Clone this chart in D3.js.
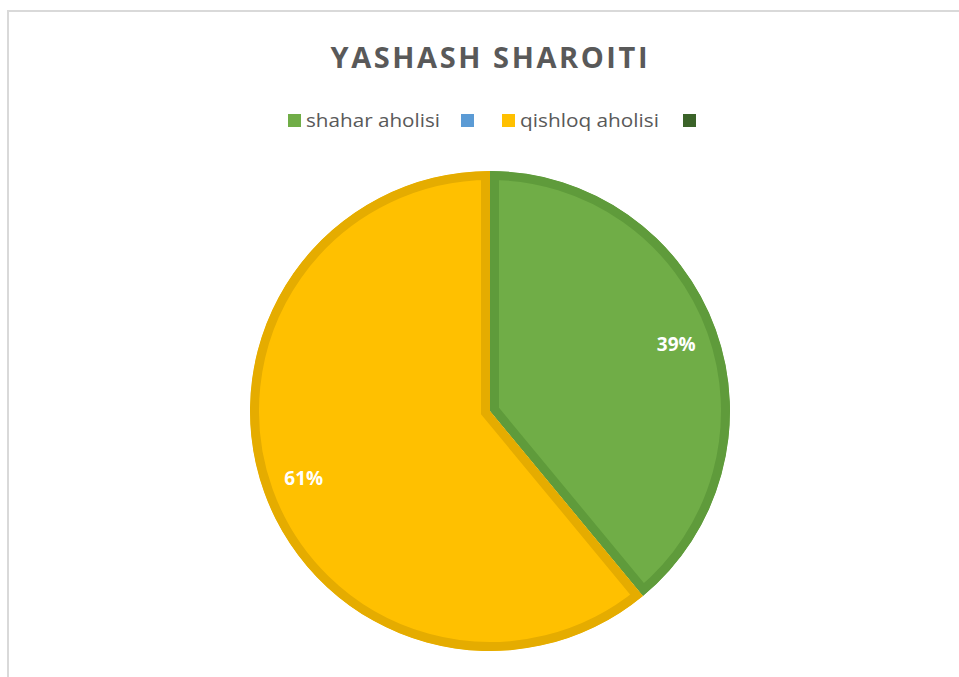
<!DOCTYPE html>
<html>
<head>
<meta charset="utf-8">
<script src="https://cdn.jsdelivr.net/npm/d3@7"></script>
<style>
  html, body { margin: 0; padding: 0; background: #fff; }
  svg { display: block; }
</style>
</head>
<body>
<svg id="chart" width="959" height="677"></svg>
<script>
// ---- data ----
const title = "YASHASH SHAROITI";
const categories = ["shahar aholisi", "", "qishloq aholisi", ""];
const values = [39, 0, 61, 0];
const fillColors = ["#70ad47", "#5b9bd5", "#ffc000", "#3b6329"];
const edgeColors = ["#5f9b3b", "#4a86c0", "#e5ac00", "#2f521f"];

const svg = d3.select("#chart");
const W = 959, H = 677;

// chart area border (only top/left visible)
svg.append("rect")
  .attr("x", 8).attr("y", 11)
  .attr("width", W + 20).attr("height", H + 20)
  .attr("fill", "#fff")
  .attr("stroke", "#d9d9d9")
  .attr("stroke-width", 2);

// title
svg.append("text")
  .attr("x", 489).attr("y", 68)
  .attr("text-anchor", "middle")
  .attr("font-family", "'Open Sans', sans-serif")
  .attr("font-weight", "bold")
  .attr("font-size", 29)
  .attr("fill", "#595959")
  .attr("textLength", 317)
  .attr("lengthAdjust", "spacing")
  .text(title);

// legend
const legendItems = [
  { x: 288, tw: 134 },
  { x: 461, tw: 0 },
  { x: 502, tw: 139 },
  { x: 683, tw: 0 }
];
const legend = svg.append("g");
categories.forEach((c, i) => {
  const g = legend.append("g").attr("transform", `translate(${legendItems[i].x},114)`);
  g.append("rect").attr("width", 13).attr("height", 13).attr("fill", fillColors[i]);
  if (c) {
    g.append("text")
      .attr("x", 18).attr("y", 13)
      .attr("font-family", "'Open Sans', sans-serif")
      .attr("font-size", 19)
      .attr("fill", "#595959")
      .attr("textLength", legendItems[i].tw)
      .attr("lengthAdjust", "spacingAndGlyphs")
      .text(c);
  }
});

// pie
const cx = 490, cy = 411, R = 240;
const pie = d3.pie().sort(null).value(d => d.v);
const data = pie(values.map((v, i) => ({ v, i })));
const arc = d3.arc().innerRadius(0).outerRadius(R);
const labelArc = d3.arc().innerRadius(198).outerRadius(198);

const defs = svg.append("defs");
const pg = svg.append("g").attr("transform", `translate(${cx},${cy})`);

data.forEach((d, k) => {
  if (d.value <= 0) return;
  const id = "clip" + k;
  defs.append("clipPath").attr("id", id)
    .append("path").attr("d", arc(d));
  pg.append("path")
    .attr("d", arc(d))
    .attr("fill", fillColors[d.data.i])
    .attr("stroke", edgeColors[d.data.i])
    .attr("stroke-width", 18)
    .attr("stroke-linejoin", "miter")
    .attr("clip-path", `url(#${id})`);
});

// labels
const total = d3.sum(values);
data.forEach(d => {
  if (d.value <= 0) return;
  const [x, y] = labelArc.centroid(d);
  pg.append("text")
    .attr("x", x).attr("y", y)
    .attr("text-anchor", "middle")
    .attr("dominant-baseline", "central")
    .attr("font-family", "'Open Sans', sans-serif")
    .attr("font-weight", "bold")
    .attr("font-size", 19)
    .attr("fill", "#ffffff")
    .text(Math.round(d.value / total * 100) + "%");
});
</script>
</body>
</html>
